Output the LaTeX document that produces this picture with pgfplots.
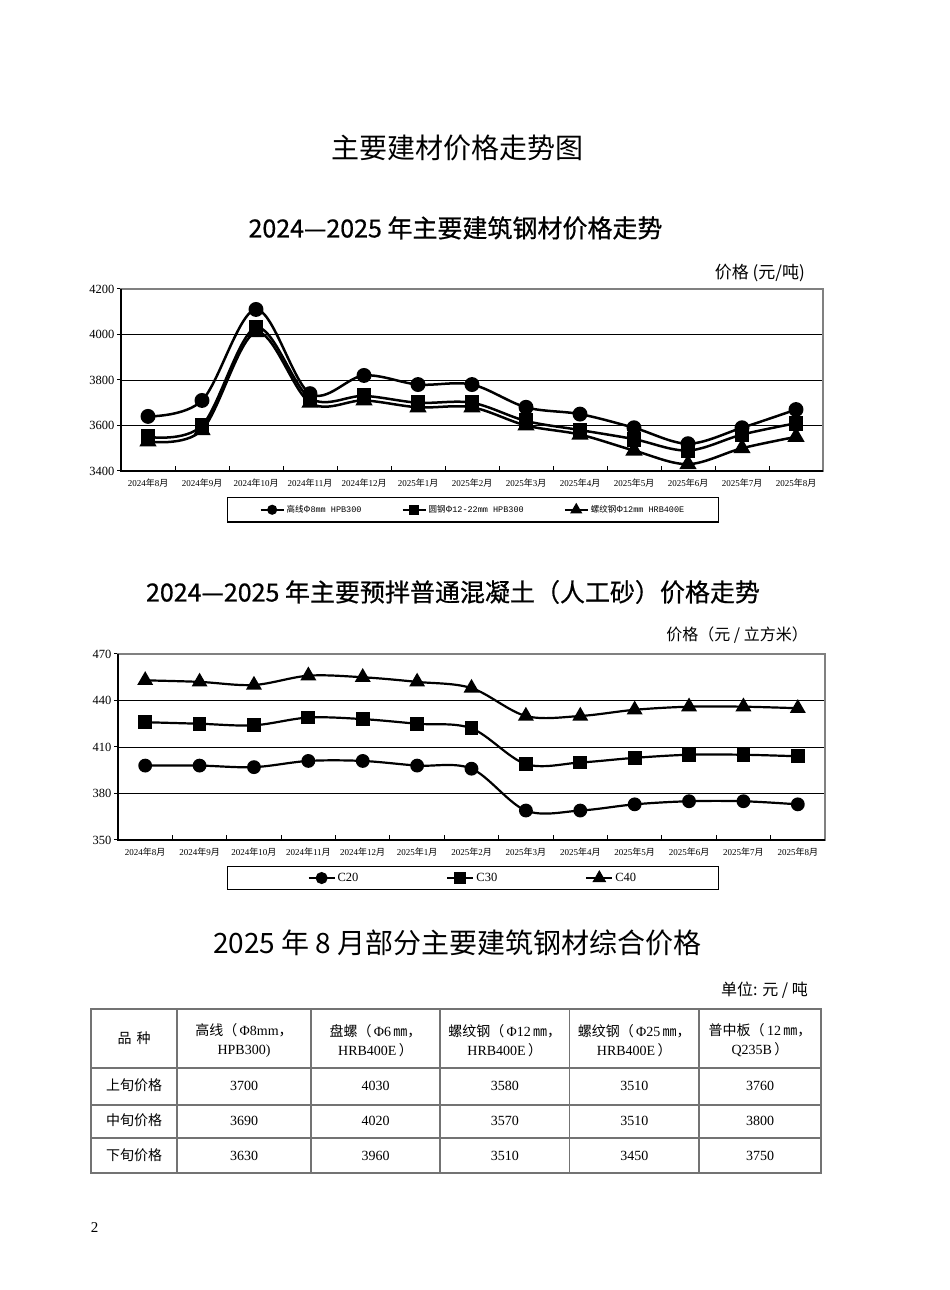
\documentclass[border=0pt]{standalone}
\usepackage{fontspec}
\setmainfont{Liberation Serif}
\newfontfamily\cjk{Noto Sans CJK SC}
\newfontfamily\cjkb[FakeBold=0.6]{Noto Sans CJK SC}
\newfontfamily\mono{Liberation Mono}
\usepackage{pgfplots}
\pgfplotsset{compat=1.18}

\newcommand\ym[2]{#1{\cjk 年}#2{\cjk 月}}
\newcommand\fs[1]{\fontsize{#1}{#1}\selectfont}

\pgfplotsset{
  pricechart/.style={
    scale only axis, anchor=south west,
    xmin=-0.5, xmax=12.5,
    xtick={0,...,12},
    xticklabels={\ym{2024}{8},\ym{2024}{9},\ym{2024}{10},\ym{2024}{11},\ym{2024}{12},
      \ym{2025}{1},\ym{2025}{2},\ym{2025}{3},\ym{2025}{4},\ym{2025}{5},\ym{2025}{6},\ym{2025}{7},\ym{2025}{8}},
    minor xtick={0.5,1.5,...,11.5},
    major x tick style={draw=none},
    minor tick length=5pt, major tick length=4pt,
    tick align=inside, tick pos=left,
    major y tick style={xshift=-4pt, black, line width=1pt},
    minor x tick style={black, line width=1pt},
    yticklabel style={font=\fs{12.5}, xshift=-3pt},
    xticklabel style={font=\fs{9}, yshift=-4pt},
    ymajorgrids, grid style={black, line width=0.9pt},
    axis line style={draw=black!50, line width=1.1pt},
    /pgf/number format/1000 sep={},
    /pgf/number format/assume math mode=true,
    legend columns=3,
    after end axis/.code={\draw[black, line width=2pt] (rel axis cs:0,1) -- (rel axis cs:0,0) -- (rel axis cs:1,0);},
  },
}

\begin{document}
\begin{tikzpicture}[x=1pt,y=1pt]
\fill[white] (0,0) rectangle (950,1290);
\path[use as bounding box] (0,0) rectangle (950,1290);

% titles
\node[inner sep=0] at (457,1142) {\fs{28}\cjk 主要建材价格走势图};
\node[inner sep=0] at (455.5,1062) {\fs{25}\cjkb 2024—2025 年主要建筑钢材价格走势};
\node[inner sep=0, anchor=east] at (805,1017) {\fs{17}\cjk 价格 (元/吨)};

% steel chart
\begin{axis}[pricechart,
  at={(121pt,819pt)}, width=702pt, height=182pt,
  ymin=3400, ymax=4200, ytick={3400,3600,...,4200},
  every axis plot/.append style={black, line width=2.5pt, smooth, tension=0.55, mark options={solid, fill=black}},
  legend image code/.code={\draw[mark repeat=2,mark phase=2,#1] plot coordinates {(0pt,0pt) (11.5pt,0pt) (23pt,0pt)};},
  legend style={at={(0.5014,-0.142)}, anchor=north, draw=black, line width=1.2pt,
    inner xsep=32pt, inner ysep=6pt, font=\fs{8.5},
    /tikz/every even column/.append style={column sep=38pt}},
]
\addplot[forget plot, mark=*, mark size=6.2pt] coordinates {
  (0,3640) (1,3710) (2,4110) (3,3740) (4,3820) (5,3780) (6,3780)
  (7,3680) (8,3650) (9,3590) (10,3520) (11,3590) (12,3670)};
\addplot[forget plot, mark=square*, mark size=6.2pt] coordinates {
  (0,3550) (1,3600) (2,4030) (3,3720) (4,3730) (5,3700) (6,3700)
  (7,3620) (8,3580) (9,3540) (10,3490) (11,3560) (12,3610)};
\addplot[forget plot, mark=triangle*, mark size=7.5pt] coordinates {
  (0,3530) (1,3580) (2,4010) (3,3700) (4,3710) (5,3680) (6,3680)
  (7,3600) (8,3560) (9,3490) (10,3430) (11,3500) (12,3550)};
\addlegendimage{black, line width=2pt, mark=*, mark size=4pt, mark options={fill=black}}
\addlegendentry{{\cjk 高线Φ}{\mono 8mm HPB300}}
\addlegendimage{black, line width=2pt, mark=square*, mark size=4pt, mark options={fill=black}}
\addlegendentry{{\cjk 圆钢Φ}{\mono 12-22mm HPB300}}
\addlegendimage{black, line width=2pt, mark=triangle*, mark size=5pt, mark options={fill=black}}
\addlegendentry{{\cjk 螺纹钢Φ}{\mono 12mm HRB400E}}
\end{axis}

\node[inner sep=0] at (453,698) {\fs{25}\cjkb 2024—2025 年主要预拌普通混凝土（人工砂）价格走势};
\node[inner sep=0, anchor=east] at (808,655) {\fs{16}\cjk 价格（元 / 立方米）};

% concrete chart
\begin{axis}[pricechart,
  at={(118pt,450pt)}, width=707pt, height=186pt,
  ymin=350, ymax=470, ytick={350,380,...,470},
  every axis plot/.append style={black, line width=2.2pt, smooth, tension=0.55, mark options={solid, fill=black}},
  legend image code/.code={\draw[mark repeat=2,mark phase=2,#1] plot coordinates {(0pt,0pt) (13pt,0pt) (26pt,0pt)};},
  legend style={at={(0.502,-0.14)}, anchor=north, draw=black, line width=1.2pt,
    inner xsep=80pt, inner ysep=4.5pt, font=\fs{12.5},
    /tikz/every even column/.append style={column sep=86pt}},
]
\addplot[forget plot, mark=*, mark size=5.8pt] coordinates {
  (0,398) (1,398) (2,397) (3,401) (4,401) (5,398) (6,396)
  (7,369) (8,369) (9,373) (10,375) (11,375) (12,373)};
\addplot[forget plot, mark=square*, mark size=5.8pt] coordinates {
  (0,426) (1,425) (2,424) (3,429) (4,428) (5,425) (6,422)
  (7,399) (8,400) (9,403) (10,405) (11,405) (12,404)};
\addplot[forget plot, mark=triangle*, mark size=7pt] coordinates {
  (0,453) (1,452) (2,450) (3,456) (4,455) (5,452) (6,448)
  (7,430) (8,430) (9,434) (10,436) (11,436) (12,435)};
\addlegendimage{black, line width=2pt, mark=*, mark size=5pt, mark options={fill=black}}
\addlegendentry{C20}
\addlegendimage{black, line width=2pt, mark=square*, mark size=5pt, mark options={fill=black}}
\addlegendentry{C30}
\addlegendimage{black, line width=2pt, mark=triangle*, mark size=6pt, mark options={fill=black}}
\addlegendentry{C40}
\end{axis}

% table
\node[inner sep=0] at (457.5,347) {\fs{28}\cjk 2025 年 8 月部分主要建筑钢材综合价格};
\node[inner sep=0, anchor=east] at (808,300) {\fs{16}\cjk 单位: 元 / 吨};

\draw[black!55, line width=1.2pt] (91,117) rectangle (821,281);
\foreach \y in {222,185,152} \draw[black!55, line width=1.2pt] (91,\y) -- (821,\y);
\foreach \x in {177,311,440,569.5,699} \draw[black!55, line width=1.2pt] (\x,117) -- (\x,281);

\tikzset{cell/.style={inner sep=0, font=\fs{14}, text height=10pt, text depth=2pt},
         head/.style={inner sep=0, align=center, font=\fontsize{14}{19}\selectfont}}
\node[cell] at (134,250) {{\cjk 品\hspace{5pt}种}};
\node[head] at (244,249.5) {{\cjk 高线（}\,Φ8mm{\cjk ，}\\HPB300)};
\node[head] at (375.5,249.5) {{\cjk 盘螺（}\,Φ6\,{\cjk ㎜，}\\HRB400E\,{\cjk ）}};
\node[head] at (504.75,249.5) {{\cjk 螺纹钢（}\,Φ12\,{\cjk ㎜，}\\HRB400E\,{\cjk ）}};
\node[head] at (634.25,249.5) {{\cjk 螺纹钢（}\,Φ25\,{\cjk ㎜，}\\HRB400E\,{\cjk ）}};
\node[head] at (760,249.5) {{\cjk 普中板（}\,12\,{\cjk ㎜，}\\Q235B\,{\cjk ）}};
\node[cell] at (134,203) {\cjk 上旬价格};
\node[cell] at (134,168) {\cjk 中旬价格};
\node[cell] at (134,133.5) {\cjk 下旬价格};
\foreach \v [count=\i] in {3700,4030,3580,3510,3760} {
  \pgfmathsetmacro\cx{{244,375.5,504.75,634.25,760}[\i-1]}
  \node[cell] at (\cx,203) {\v};}
\foreach \v [count=\i] in {3690,4020,3570,3510,3800} {
  \pgfmathsetmacro\cx{{244,375.5,504.75,634.25,760}[\i-1]}
  \node[cell] at (\cx,168) {\v};}
\foreach \v [count=\i] in {3630,3960,3510,3450,3750} {
  \pgfmathsetmacro\cx{{244,375.5,504.75,634.25,760}[\i-1]}
  \node[cell] at (\cx,133.5) {\v};}

\node[inner sep=0, font=\fs{15}] at (94.5,62) {2};
\end{tikzpicture}
\end{document}
